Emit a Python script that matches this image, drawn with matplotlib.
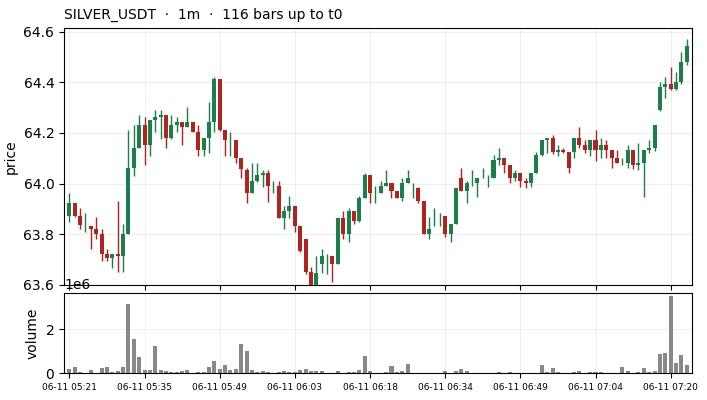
import matplotlib
matplotlib.use("Agg")
import matplotlib.pyplot as plt
import numpy as np

# OHLC (1m bars, index 0..115)
opens = [63.874, 63.923, 63.873, 63.834, 63.833, 63.821, 63.800, 63.723, 63.706, 63.723,
         63.716, 63.800, 64.062, 64.141, 64.232, 64.154, 64.251, 64.263, 64.271, 64.180,
         64.233, 64.244, 64.224, 64.244, 64.204, 64.133, 64.180, 64.244, 64.413, 64.212,
         64.172, 64.173, 64.103, 64.054, 63.965, 64.011, 64.034, 64.042, 63.991, 63.991,
         63.866, 63.892, 63.912, 63.833, 63.782, 63.653, 63.595, 63.683, 63.701, 63.715,
         63.683, 63.865, 63.802, 63.892, 63.854, 63.944, 64.034, 63.966, 63.965, 63.991,
         64.002, 63.971, 63.944, 64.002, 63.981, 63.982, 63.932, 63.802, 63.851, 63.851,
         63.873, 63.802, 63.840, 64.021, 63.973, 64.011, 64.002, 64.031, 64.011, 64.023,
         64.094, 64.102, 64.074, 64.023, 64.042, 64.011, 64.002, 64.042, 64.113, 64.173,
         64.180, 64.123, 64.133, 64.123, 64.123, 64.180, 64.153, 64.133, 64.173, 64.133,
         64.153, 64.133, 64.103, 64.091, 64.083, 64.133, 64.074, 64.083, 64.133, 64.141,
         64.291, 64.382, 64.393, 64.374, 64.401, 64.482]
highs = [63.962, 63.923, 63.903, 63.883, 63.833, 63.870, 63.821, 63.741, 63.723, 63.932,
         63.840, 64.211, 64.232, 64.271, 64.262, 64.251, 64.291, 64.291, 64.271, 64.271,
         64.262, 64.244, 64.303, 64.244, 64.232, 64.180, 64.321, 64.421, 64.413, 64.212,
         64.203, 64.173, 64.103, 64.061, 64.080, 64.080, 64.053, 64.053, 64.011, 64.011,
         63.912, 63.952, 63.912, 63.833, 63.782, 63.673, 63.715, 63.741, 63.722, 63.715,
         63.865, 63.892, 63.903, 63.892, 63.952, 64.042, 64.034, 63.991, 64.011, 64.053,
         64.002, 63.971, 64.021, 64.053, 64.002, 63.988, 63.932, 63.870, 63.903, 63.883,
         63.873, 63.840, 63.982, 64.061, 64.011, 64.053, 64.021, 64.061, 64.034, 64.113,
         64.140, 64.102, 64.074, 64.053, 64.042, 64.021, 64.042, 64.123, 64.173, 64.180,
         64.192, 64.151, 64.141, 64.123, 64.180, 64.224, 64.173, 64.173, 64.212, 64.180,
         64.173, 64.133, 64.133, 64.103, 64.151, 64.133, 64.161, 64.133, 64.173, 64.232,
         64.400, 64.421, 64.460, 64.441, 64.521, 64.570]
lows = [63.850, 63.870, 63.820, 63.811, 63.741, 63.781, 63.695, 63.693, 63.669, 63.650,
        63.650, 63.800, 64.032, 64.140, 64.073, 64.111, 64.203, 64.178, 64.140, 64.178,
        64.203, 64.151, 64.224, 64.203, 64.111, 64.111, 64.120, 64.203, 64.208, 64.111,
        64.111, 64.080, 64.021, 63.923, 63.962, 64.008, 63.988, 63.929, 63.962, 63.864,
        63.820, 63.864, 63.811, 63.732, 63.643, 63.585, 63.590, 63.649, 63.643, 63.611,
        63.682, 63.782, 63.771, 63.840, 63.850, 63.942, 63.923, 63.923, 63.962, 63.991,
        63.942, 63.942, 63.932, 64.002, 63.942, 63.923, 63.800, 63.781, 63.831, 63.831,
        63.791, 63.771, 63.840, 63.973, 63.923, 63.991, 63.949, 64.021, 63.988, 64.021,
        64.074, 64.041, 64.002, 64.011, 63.988, 63.982, 63.988, 64.042, 64.111, 64.120,
        64.117, 64.111, 64.120, 64.041, 64.102, 64.140, 64.120, 64.111, 64.091, 64.102,
        64.102, 64.061, 64.080, 64.074, 64.061, 64.058, 64.053, 63.949, 64.120, 64.130,
        64.288, 64.340, 64.371, 64.371, 64.392, 64.468]
closes = [63.923, 63.874, 63.835, 63.834, 63.823, 63.802, 63.724, 63.706, 63.723, 63.716,
          63.800, 64.062, 64.141, 64.232, 64.154, 64.251, 64.262, 64.271, 64.180, 64.232,
          64.244, 64.224, 64.244, 64.203, 64.133, 64.180, 64.244, 64.413, 64.212, 64.173,
          64.172, 64.103, 64.057, 63.965, 64.011, 64.034, 64.042, 63.991, 63.991, 63.866,
          63.892, 63.912, 63.833, 63.735, 63.653, 63.595, 63.647, 63.715, 63.701, 63.683,
          63.865, 63.802, 63.892, 63.854, 63.944, 64.034, 63.965, 63.966, 63.991, 64.002,
          63.973, 63.944, 64.002, 64.021, 63.981, 63.932, 63.802, 63.820, 63.851, 63.851,
          63.802, 63.840, 63.982, 63.973, 64.002, 64.011, 64.021, 64.031, 64.011, 64.094,
          64.102, 64.074, 64.023, 64.042, 64.011, 64.002, 64.042, 64.113, 64.173, 64.180,
          64.123, 64.133, 64.123, 64.063, 64.180, 64.154, 64.133, 64.173, 64.133, 64.153,
          64.133, 64.103, 64.083, 64.091, 64.133, 64.074, 64.083, 64.133, 64.141, 64.232,
          64.382, 64.393, 64.374, 64.401, 64.482, 64.545]
volume_m = [0.20, 0.29, 0.06, 0.02, 0.15, 0.01, 0.24, 0.29, 0.06, 0.10,
            0.29, 3.15, 1.58, 0.76, 0.15, 0.15, 1.24, 0.15, 0.10, 0.06,
            0.06, 0.10, 0.15, 0.01, 0.06, 0.06, 0.29, 0.56, 0.20, 0.38,
            0.15, 0.20, 1.33, 1.02, 0.15, 0.06, 0.10, 0.06, 0.01, 0.06,
            0.10, 0.06, 0.06, 0.15, 0.20, 0.10, 0.10, 0.10, 0.01, 0.01,
            0.10, 0.01, 0.06, 0.06, 0.15, 0.79, 0.10, 0.01, 0.01, 0.06,
            0.33, 0.06, 0.10, 0.42, 0.01, 0.01, 0.01, 0.01, 0.01, 0.01,
            0.10, 0.01, 0.10, 0.20, 0.10, 0.01, 0.01, 0.01, 0.01, 0.01,
            0.06, 0.01, 0.06, 0.01, 0.01, 0.01, 0.01, 0.01, 0.38, 0.06,
            0.24, 0.06, 0.01, 0.01, 0.06, 0.10, 0.01, 0.06, 0.06, 0.06,
            0.01, 0.01, 0.01, 0.29, 0.10, 0.01, 0.06, 0.24, 0.06, 0.10,
            0.88, 0.92, 3.52, 0.47, 0.83, 0.38]
tick_labels = ['06-11 05:21', '06-11 05:35', '06-11 05:49', '06-11 06:03', '06-11 06:18',
               '06-11 06:34', '06-11 06:49', '06-11 07:04', '06-11 07:20']

up_col = '#1a7f4b'
dn_col = '#b2221f'

o = np.array(opens)
h = np.array(highs)
l = np.array(lows)
c = np.array(closes)
vol = np.array(volume_m) * 1e6
x = np.arange(len(o))
up = c >= o
cols = np.where(up, up_col, dn_col)

fig = plt.figure(figsize=(7.07, 4.0), dpi=100)
ax = fig.add_axes([0.0905, 0.2875, 0.8885, 0.6435])
axv = fig.add_axes([0.0905, 0.0668, 0.8885, 0.2])

ax.vlines(x, l, h, colors=cols, linewidth=1.0, zorder=2)
ax.bar(x, c - o, bottom=o, width=0.75, color=cols, linewidth=0, zorder=3)
ax.set_ylim(63.6, 64.616)
ax.set_xlim(-1, 116)
ax.set_ylabel('price')
ax.set_title('SILVER_USDT  \u00b7  1m  \u00b7  116 bars up to t0', loc='left', fontsize=10)
ax.grid(True, color='#e6e6e6', linewidth=0.6, alpha=0.8)
ax.set_axisbelow(True)

ticks = np.arange(0, 113, 14)
ax.set_xticks(ticks)
ax.set_xticklabels([])

axv.bar(x, vol, width=0.75, color='#888888', linewidth=0)
axv.set_xlim(-1, 116)
axv.set_ylim(0, 3.64e6)
axv.set_yticks([0, 2e6])
axv.set_ylabel('volume')
axv.set_xticks(ticks)
axv.set_xticklabels(tick_labels, fontsize=6.5)
axv.grid(True, color='#e6e6e6', linewidth=0.6, alpha=0.8)
axv.set_axisbelow(True)

fig.savefig('out.png', dpi=100)
